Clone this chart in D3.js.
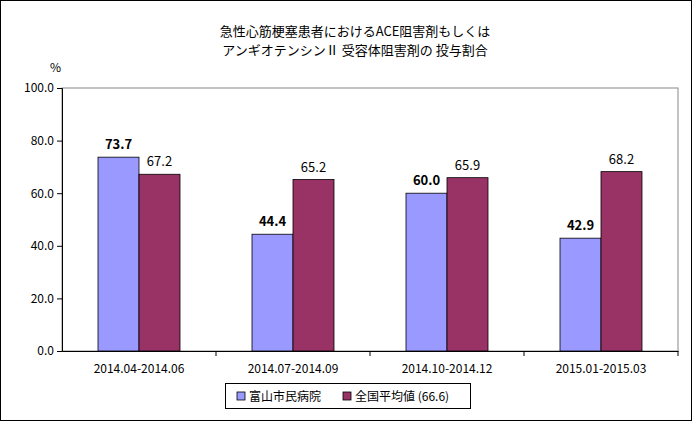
<!DOCTYPE html>
<html><head><meta charset="utf-8">
<script src="https://cdn.jsdelivr.net/npm/d3@7"></script>
<style>body{margin:0;background:#fff}text{font-family:"Noto Sans CJK JP",sans-serif}</style>
</head><body>
<script>
const categories = ["2014.04-2014.06", "2014.07-2014.09", "2014.10-2014.12", "2015.01-2015.03"];
const hospital = [73.7, 44.4, 60.0, 42.9];
const national = [67.2, 65.2, 65.9, 68.2];
const seriesNames = ["富山市民病院", "全国平均値 (66.6)"];
const yTicks = [0, 20, 40, 60, 80, 100];

const W = 693, H = 422;
const svg = d3.select("body").append("svg").attr("width", W).attr("height", H);
svg.append("rect").attr("x", 0.5).attr("y", 0.5).attr("width", W - 2).attr("height", H - 2)
    .attr("fill", "#fff").attr("stroke", "#000");

const plotL = 62, plotR = 678, plotT = 88, plotB = 351;
const x = d3.scaleBand().domain(categories).range([plotL, plotR]);
const y = d3.scaleLinear().domain([0, 100]).range([plotB, plotT]);

// title
svg.append("text").attr("x", 355).attr("y", 36).attr("text-anchor", "middle")
    .attr("font-size", 13).text("急性心筋梗塞患者におけるACE阻害剤もしくは");
svg.append("text").attr("x", 355).attr("y", 55).attr("text-anchor", "middle")
    .attr("font-size", 13).text("アンギオテンシンⅡ 受容体阻害剤の 投与割合");
svg.append("text").attr("x", 50).attr("y", 72).attr("font-size", 12).text("%");

svg.append("rect").attr("x", plotL).attr("y", plotT).attr("width", plotR - plotL).attr("height", plotB - plotT)
    .attr("fill", "none").attr("stroke", "#888");

const yAxis = svg.append("g").attr("transform", `translate(${plotL},0)`)
    .call(d3.axisLeft(y).tickValues(yTicks).tickSize(5).tickFormat(d3.format(".1f")));
yAxis.selectAll("text").attr("font-size", 12).attr("fill", "#000");
yAxis.selectAll("line,path").attr("stroke", "#000");

const xAxis = svg.append("g").attr("transform", `translate(0,${plotB})`)
    .call(d3.axisBottom(x).tickSize(5).tickSizeOuter(0));
xAxis.selectAll("text").attr("font-size", 12).attr("fill", "#000").attr("dy", "1.2em");
xAxis.selectAll("line,path").attr("stroke", "#000");
xAxis.selectAll(".tick line").attr("transform", `translate(${x.bandwidth() / 2},0)`);

const bw = 41;
const groups = [
    {vals: hospital, color: "#9999FF", off: -bw, bold: true},
    {vals: national, color: "#993366", off: 0, bold: false}
];
groups.forEach(g => {
    svg.append("g").selectAll("rect").data(g.vals).join("rect")
        .attr("x", (d, i) => x(categories[i]) + x.bandwidth() / 2 + g.off)
        .attr("y", d => y(d)).attr("width", bw).attr("height", d => plotB - y(d))
        .attr("fill", g.color).attr("stroke", "#000").attr("stroke-width", 0.8);
    svg.append("g").selectAll("text").data(g.vals).join("text")
        .attr("x", (d, i) => x(categories[i]) + x.bandwidth() / 2 + g.off + bw / 2)
        .attr("y", d => y(d) - 8).attr("text-anchor", "middle")
        .attr("font-size", 13).attr("font-weight", g.bold ? "bold" : "normal")
        .text(d => d.toFixed(1));
});

// legend
const lg = svg.append("g");
lg.append("rect").attr("x", 225.5).attr("y", 383.5).attr("width", 245).attr("height", 25)
    .attr("fill", "#fff").attr("stroke", "#000");
[[237, 0], [343, 1]].forEach(([lx, i]) => {
    lg.append("rect").attr("x", lx).attr("y", 392).attr("width", 8).attr("height", 8)
        .attr("fill", groups[i].color).attr("stroke", "#000").attr("stroke-width", 0.8);
    lg.append("text").attr("x", lx + 12).attr("y", 401).attr("font-size", 12).text(seriesNames[i]);
});
</script>
</body></html>
